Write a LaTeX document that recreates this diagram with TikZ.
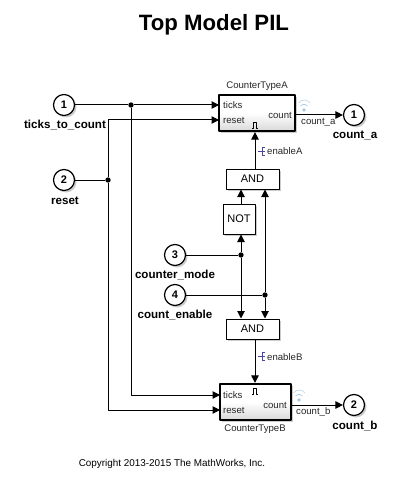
\documentclass[tikz,border=0pt]{standalone}
\usepackage{fontspec}
\setmainfont{Liberation Sans}
\usetikzlibrary{arrows.meta,shadows}
\definecolor{sigblue}{RGB}{70,70,170}
\definecolor{wifiblue}{RGB}{165,200,230}
\tikzset{
	port/.style={circle,draw,line width=1.2pt,fill=white,minimum size=21pt,inner sep=0pt,font=\bfseries\fontsize{11}{11}\selectfont,drop shadow={shadow xshift=2pt,shadow yshift=-2pt,fill=black!40}},
	portname/.style={font=\bfseries\fontsize{11.6}{12}\selectfont,inner sep=0pt},
	logic/.style={rectangle,draw,line width=1pt,fill=white,inner sep=0pt,font=\fontsize{11}{11}\selectfont,drop shadow={shadow xshift=2pt,shadow yshift=-2pt,fill=black!40}},
	counter/.style={rectangle,draw,line width=2.2pt,top color=white,bottom color=black!15,middle color=white,inner sep=0pt,drop shadow={shadow xshift=2pt,shadow yshift=-2pt,fill=black!40}},
	small/.style={font=\fontsize{9.6}{10}\selectfont,inner sep=0pt,text=black!85},
	wire/.style={line width=1pt},
	arrow/.style={wire,-{Triangle[length=7.5pt,width=7.5pt]}},
	dot/.style={circle,fill=black,inner sep=0pt,minimum size=5.4pt},
}
\begin{document}
\begin{tikzpicture}[x=1pt,y=-1pt,line join=round]
	\useasboundingbox (0,0) rectangle (409,484);
	\node[font=\bfseries\fontsize{22.2}{23}\selectfont,inner sep=0pt] (title) at (214,25) {Top Model PIL};
	\node[font=\fontsize{9.9}{10}\selectfont,inner sep=0pt] (copyright) at (172,464) {Copyright 2013-2015 The MathWorks, Inc.};
	% ports
	\node[port] (in1) at (64,105) {1};
	\node[port] (in2) at (64,180) {2};
	\node[port] (in3) at (175,255) {3};
	\node[port] (in4) at (175,295) {4};
	\node[port] (outa) at (354,115) {1};
	\node[port] (outb) at (354,405) {2};
	\node[portname] (in1name) at (65,125.5) {ticks\_to\_count};
	\node[portname] (in2name) at (65,200.5) {reset};
	\node[portname] (in3name) at (175,275.5) {counter\_mode};
	\node[portname] (in4name) at (175,315.5) {count\_enable};
	\node[portname] (outaname) at (355,135.5) {count\_a};
	\node[portname] (outbname) at (355,425.5) {count\_b};
	% blocks
	\node[counter,minimum width=76pt,minimum height=36pt] (blocka) at (257,113) {};
	\node[counter,minimum width=71pt,minimum height=36pt] (blockb) at (255.5,402) {};
	\node[logic,minimum width=53pt,minimum height=20pt] (anda) at (252.5,179) {AND};
	\node[logic,minimum width=32pt,minimum height=30pt] (nota) at (239,219) {NOT};
	\node[logic,minimum width=53pt,minimum height=20pt] (andb) at (252.5,329) {AND};
	\node[small] at (257,86) {CounterTypeA};
	\node[small] at (255,429) {CounterTypeB};
	\node[small,anchor=west] at (223,105) {ticks};
	\node[small,anchor=west] at (223,120) {reset};
	\node[small,anchor=east] at (292,115) {count};
	\node[small,anchor=west] at (223,395) {ticks};
	\node[small,anchor=west] at (223,410) {reset};
	\node[small,anchor=east] at (287,405) {count};
	\node[small,anchor=west] at (301,122) {count\_a};
	\node[small,anchor=west] at (296,412) {count\_b};
	\node[small,anchor=west] at (267,151) {enableA};
	\node[small,anchor=west] at (267,357) {enableB};
	% junctions
	\node[dot] (j1) at (131,105) {};
	\node[dot] (j2) at (108,180) {};
	\node[dot] (j3) at (241,255) {};
	\node[dot] (j4) at (265,295) {};
	\coordinate (aticks) at (219,105);
	\coordinate (areset) at (219,120);
	\coordinate (bticks) at (220,395);
	\coordinate (breset) at (220,410);
	\coordinate (ena) at (255,150);
	\coordinate (enb) at (255,355);
	% wires
	\draw[wire] (in1) -- (j1);
	\draw[arrow] (j1) -- (aticks);
	\draw[arrow] (j1) |- (bticks);
	\draw[wire] (in2) -- (j2);
	\draw[arrow] (j2) |- (areset);
	\draw[arrow] (j2) |- (breset);
	\draw[wire] (in3) -- (j3);
	\draw[wire] (in4) -- (j4);
	\draw[arrow] (j3) -- (nota.south -| j3);
	\draw[arrow] (j3) -- (andb.north -| j3);
	\draw[arrow] (j4) -- (anda.south -| j4);
	\draw[arrow] (j4) -- (andb.north -| j4);
	\draw[arrow] (nota.north -| j3) -- (anda.south -| j3);
	\draw[arrow] (anda.north -| ena) -- (blocka.south -| ena);
	\draw[arrow] (andb.south -| enb) -- (blockb.north -| enb);
	\draw[arrow] (blocka.east |- outa) -- (outa);
	\draw[arrow] (blockb.east |- outb) -- (outb);
	% pulse marks
	\draw[line width=.9pt] (252,128) -- (253.5,128) -- (253.5,122) -- (256.5,122) -- (256.5,128) -- (258,128);
	\draw[line width=.9pt] (252,394) -- (253.5,394) -- (253.5,388) -- (256.5,388) -- (256.5,394) -- (258,394);
	% signal marks
	\foreach \y/\x in {151/258,356/258}{
		\draw[sigblue,line width=.7pt] (\x,\y) -- (\x+7,\y) (\x+7,\y-4) -- (\x+4,\y-4) -- (\x+4,\y+4) -- (\x+7,\y+4);
	}
	% wireless marks
	\foreach \x/\y in {304/110,299/400}{
		\fill[wifiblue] (\x,\y) circle (1.8pt);
		\draw[wifiblue,line width=.7pt] (\x-3.5,\y-4) arc (220:320:4.5);
		\draw[wifiblue!70,line width=.7pt] (\x-5.5,\y-7) arc (215:325:7);
	}
\end{tikzpicture}
\end{document}
